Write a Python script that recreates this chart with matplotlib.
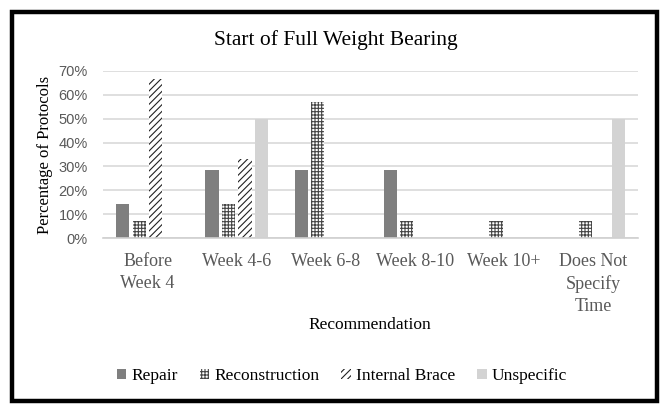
import matplotlib.pyplot as plt
from matplotlib.patches import Rectangle
from matplotlib.ticker import PercentFormatter
import numpy as np

categories = ['Before\nWeek 4', 'Week 4-6', 'Week 6-8', 'Week 8-10', 'Week 10+',
              'Does Not\nSpecify\nTime']
repair = [14.3, 28.6, 28.6, 28.6, 0, 0]
reconstruction = [7.1, 14.3, 57.1, 7.1, 7.1, 7.1]
internal_brace = [66.7, 33.3, 0, 0, 0, 0]
unspecific = [0, 50, 0, 0, 0, 50]

series = [
    ('Repair', repair, dict(color='#7f7f7f')),
    ('Reconstruction', reconstruction, dict(facecolor='white', edgecolor='#444444', hatch='+++++')),
    ('Internal Brace', internal_brace, dict(facecolor='white', edgecolor='#222222', hatch='/////')),
    ('Unspecific', unspecific, dict(color='#d3d3d3')),
]

plt.rcParams['hatch.linewidth'] = 0.8
plt.rcParams['font.family'] = 'Liberation Serif'

fig = plt.figure(figsize=(6.71, 4.13), dpi=100)
ax = fig.add_axes([103/671, 175/413, 535/671, 167/413])

x = np.arange(len(categories))
step = 0.185
width = 0.146
for i, (name, vals, style) in enumerate(series):
    ax.bar(x + (i - 1.5) * step, vals, width, label=name, linewidth=0, **style)

ax.set_xlim(-0.5, len(categories) - 0.5)
ax.set_ylim(0, 70)
ax.set_yticks(np.arange(0, 71, 10))
ax.yaxis.set_major_formatter(PercentFormatter(decimals=0))
ax.grid(axis='y', color='#d9d9d9', linewidth=1.2)
ax.set_axisbelow(True)
for s in ['top', 'right', 'left']:
    ax.spines[s].set_visible(False)
ax.spines['bottom'].set_color('#d0d0d0')
ax.spines['bottom'].set_linewidth(1.2)
ax.tick_params(length=0)
ax.tick_params(axis='y', labelcolor='#595959', pad=11)
ax.set_yticklabels([f'{v}%' for v in range(0, 71, 10)], family='Liberation Sans',
                   fontsize=10.5)
ax.set_xticks(x)
ax.set_xticklabels(categories, fontsize=13, color='#595959', linespacing=1.35)
ax.tick_params(axis='x', pad=11)

fig.text(0.5, 1 - 40/413, 'Start of Full Weight Bearing', fontsize=15.5,
         ha='center', va='center')
ax.set_ylabel('Percentage of Protocols', fontsize=12, labelpad=4)
# Excel places the axis title on its own, overlapping the tick-label band
fig.text(370/671, 1 - 325/413, 'Recommendation', fontsize=12.5,
         ha='center', va='center')

ax.legend(loc='center', bbox_to_anchor=(342/671, 1 - 376/413), bbox_transform=fig.transFigure,
          ncol=4, frameon=False, prop={'size': 12.5}, handlelength=0.55,
          handleheight=0.55, handletextpad=0.3, columnspacing=1.25)

fig.patches.append(Rectangle((12/671, 12/413), 645/671, 389/413,
                             transform=fig.transFigure, fill=False,
                             edgecolor='black', linewidth=3.2))

fig.savefig('out.png', dpi=100)
